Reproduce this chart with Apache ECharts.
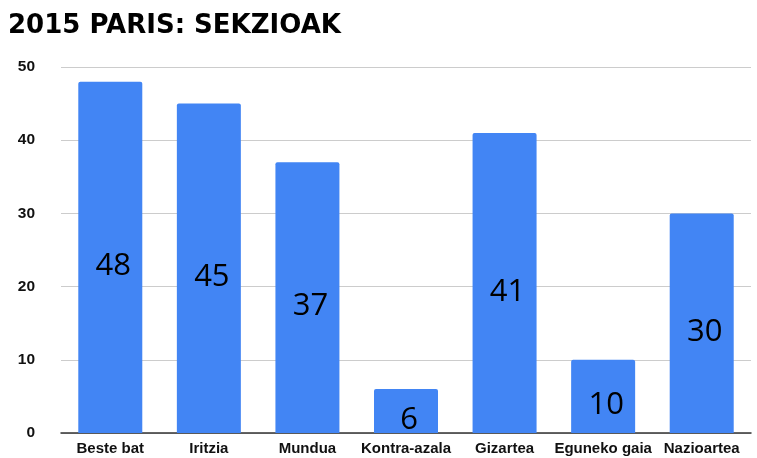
<!DOCTYPE html>
<html>
<head>
<meta charset="utf-8">
<script src="https://cdn.jsdelivr.net/npm/echarts@6/dist/echarts.min.js"></script>
<style>
  html, body { margin: 0; padding: 0; background: #fff; }
  #chart { width: 757px; height: 458px; }
</style>
</head>
<body>
<div id="chart"></div>
<script>
var categories = ['Beste bat', 'Iritzia', 'Mundua', 'Kontra-azala', 'Gizartea', 'Eguneko gaia', 'Nazioartea'];
var values = [48, 45, 37, 6, 41, 10, 30];
var yTicks = [0, 10, 20, 30, 40, 50];

var myChart = echarts.init(document.getElementById('chart'));
var option = {
  animation: false,
  title: {
    text: '2015 PARIS: SEKZIOAK',
    left: 3,
    top: 8,
    textStyle: {
      fontFamily: 'DejaVu Sans, sans-serif',
      fontWeight: 'bold',
      fontSize: 26,
      color: '#000'
    }
  },
  grid: { left: 61, right: 6, top: 67, bottom: 25, containLabel: false },
  xAxis: {
    type: 'category',
    data: categories,
    axisTick: { show: false },
    axisLine: { lineStyle: { color: '#333', width: 1.5 } },
    axisLabel: {
      color: '#111',
      fontWeight: 'bold',
      fontSize: 15,
      fontFamily: 'Liberation Sans, Arial, sans-serif',
      margin: 8,
      interval: 0
    }
  },
  yAxis: {
    type: 'value',
    min: yTicks[0],
    max: yTicks[yTicks.length - 1],
    interval: 10,
    axisLine: { show: false },
    axisTick: { show: false },
    splitLine: { lineStyle: { color: '#ccc' } },
    axisLabel: {
      color: '#111',
      fontWeight: 'bold',
      fontSize: 15.5,
      fontFamily: 'Liberation Sans, Arial, sans-serif',
      margin: 26
    }
  },
  series: [{
    type: 'bar',
    data: values,
    barWidth: 64,
    itemStyle: { color: '#4285f4', borderRadius: [2, 2, 0, 0] },
    label: {
      show: true,
      position: 'inside',
      offset: [3, 9],
      color: '#000',
      fontSize: 31,
      fontFamily: 'Open Sans, Noto Sans, sans-serif'
    }
  }]
};
myChart.setOption(option);
</script>
</body>
</html>
